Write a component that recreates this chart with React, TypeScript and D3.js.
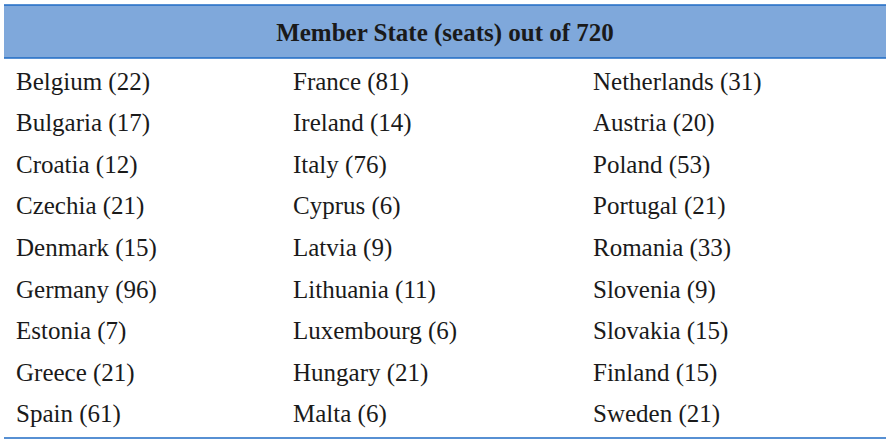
import { useEffect, useRef } from "react";
import * as d3 from "d3";

// Seats per member state, listed column by column as in the table
const countries = [
  "Belgium", "Bulgaria", "Croatia", "Czechia", "Denmark", "Germany", "Estonia", "Greece", "Spain",
  "France", "Ireland", "Italy", "Cyprus", "Latvia", "Lithuania", "Luxembourg", "Hungary", "Malta",
  "Netherlands", "Austria", "Poland", "Portugal", "Romania", "Slovenia", "Slovakia", "Finland", "Sweden",
];
const seats = [
  22, 17, 12, 21, 15, 96, 7, 21, 61,
  81, 14, 76, 6, 9, 11, 6, 21, 6,
  31, 20, 53, 21, 33, 9, 15, 15, 21,
];
const totalSeats = 720;
const columnKeys = [0, 1, 2];

export default function App() {
  const ref = useRef<SVGSVGElement | null>(null);

  useEffect(() => {
    if (!ref.current) return;
    const svg = d3.select(ref.current);
    svg.selectAll("*").remove();

    const width = 890;
    const height = 446;
    const left = 4;
    const right = 886;
    const headerTop = 5;
    const headerBottom = 58;
    const tableBottom = 438;
    const font = "'Liberation Serif', 'DejaVu Serif', serif";

    const perCol = Math.ceil(countries.length / columnKeys.length);
    const rows = d3.range(perCol);

    const x = d3.scaleOrdinal<number, number>().domain(columnKeys).range([16, 293, 593]);
    const y = d3.scaleBand<number>()
      .domain(rows)
      .range([headerBottom + 2, tableBottom])
      .paddingOuter(0.05);

    svg.attr("width", width).attr("height", height);

    // Header band
    svg.append("rect")
      .attr("x", left)
      .attr("y", headerTop)
      .attr("width", right - left)
      .attr("height", headerBottom - headerTop)
      .attr("fill", "#7fa8db");

    [headerTop, headerBottom, tableBottom].forEach((ly) => {
      svg.append("line")
        .attr("x1", left)
        .attr("x2", right)
        .attr("y1", ly)
        .attr("y2", ly)
        .attr("stroke", "#1f6bc4")
        .attr("stroke-width", 1.6);
    });

    svg.append("text")
      .attr("x", (left + right) / 2)
      .attr("y", 41)
      .attr("text-anchor", "middle")
      .attr("font-family", font)
      .attr("font-weight", "bold")
      .attr("font-size", 25)
      .attr("fill", "#1a1a1a")
      .text(`Member State (seats) out of ${totalSeats}`);

    const cells = countries.map((c, i) => ({
      label: `${c} (${seats[i]})`,
      col: Math.floor(i / perCol),
      row: i % perCol,
    }));

    svg.append("g")
      .selectAll("text")
      .data(cells)
      .join("text")
      .attr("x", (d) => x(d.col))
      .attr("y", (d) => (y(d.row) ?? 0) + y.bandwidth() / 2 + 7)
      .attr("font-family", font)
      .attr("font-size", 25)
      .attr("fill", "#1a1a1a")
      .text((d) => d.label);
  }, []);

  return (
    <svg
      ref={ref}
      style={{ position: "absolute", left: 0, top: 0 }}
    />
  );
}
